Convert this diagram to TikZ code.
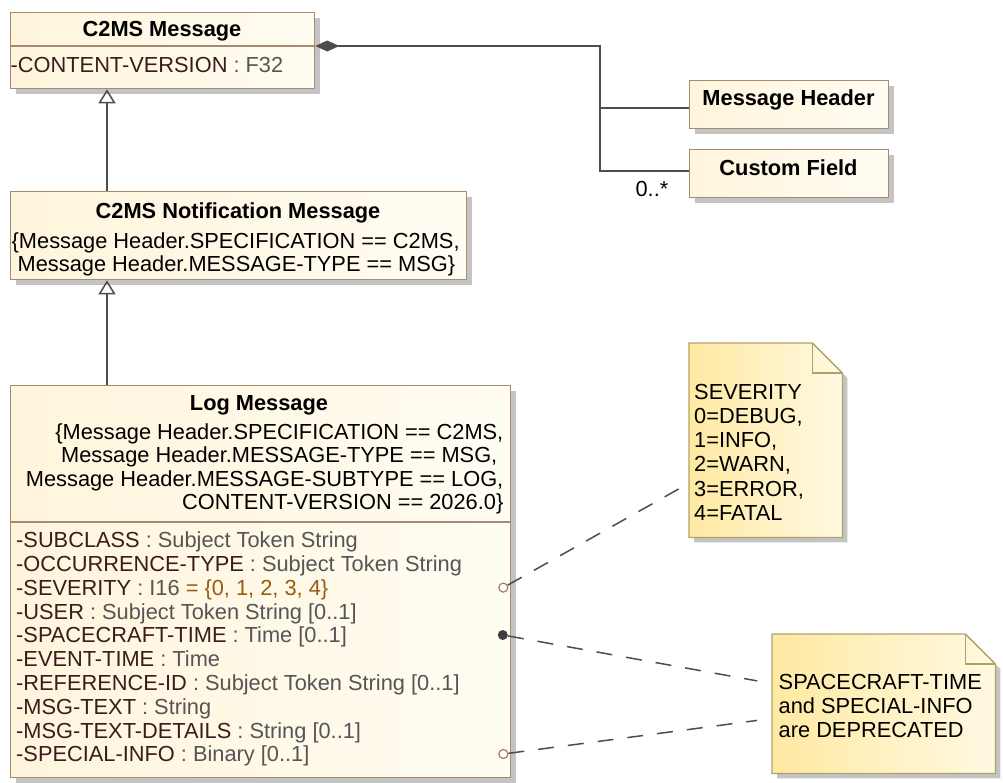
\documentclass[tikz,border=0pt]{standalone}
\usepackage{fontspec}
\setmainfont{Liberation Sans}
\usetikzlibrary{arrows.meta,calc,shadows}
\definecolor{boxA}{HTML}{FFF5DC}
\definecolor{boxB}{HTML}{FFFCF2}
\definecolor{boxline}{HTML}{A88A70}
\definecolor{noteA}{HTML}{FFE9A2}
\definecolor{noteB}{HTML}{FFF9E2}
\definecolor{noteline}{HTML}{B0A265}
\definecolor{shadowc}{HTML}{C4C4C4}
\definecolor{lnc}{HTML}{4D4D4D}
\definecolor{attrname}{HTML}{3A1C1C}
\definecolor{attrtype}{HTML}{555555}
\definecolor{attrval}{HTML}{9B5A12}
\definecolor{portc}{HTML}{A67C5E}
\newcommand{\attrline}[2]{\textcolor{attrname}{#1}\textcolor{attrtype}{\ :\ #2}}
\begin{document}
\begin{tikzpicture}[x=1pt,y=-1pt,
  every node/.style={font=\fontsize{21.8}{23.8}\selectfont, inner sep=0pt},
  umlbox/.style={draw=boxline, line width=1.3pt, left color=boxA, right color=boxB,
    anchor=north west, drop shadow={shadow xshift=5pt, shadow yshift=-5pt, fill=shadowc, opacity=1}},
  notebox/.style={anchor=north west},
  notepath/.style={draw=noteline, line width=1.3pt, left color=noteA, right color=noteB,
    drop shadow={shadow xshift=5pt, shadow yshift=-5pt, fill=shadowc, opacity=1}},
  titletext/.style={font=\fontsize{21.8}{23.8}\selectfont\bfseries, anchor=base},
  attrtext/.style={anchor=base west},
  divider/.style={draw=boxline, line width=1.3pt},
  conn/.style={draw=lnc, line width=1.5pt},
  gen/.style={conn, -{Triangle[open, length=14pt, width=17pt]}},
  notelink/.style={draw=lnc, line width=1.5pt, dash pattern=on 16pt off 14pt},
  porto/.style={circle, draw=portc, fill=white, line width=1.2pt, minimum size=9pt},
  portf/.style={circle, fill=lnc!80!black, minimum size=10pt}
]
\useasboundingbox (0,0) rectangle (1003,782);

% ---------- C2MS Message ----------
\node[umlbox, minimum width=304, minimum height=76] (c2ms) at (10,12) {};
\draw[divider] ($(c2ms.north west)+(0,34)$) -- ($(c2ms.north east)+(0,34)$);
\node[titletext] (c2mst) at (162,36) {C2MS Message};
\node[attrtext] (c2msa) at (10.5,72.5) {\attrline{-CONTENT-VERSION}{F32}};

% ---------- Message Header / Custom Field ----------
\node[umlbox, minimum width=199, minimum height=48] (mh) at (689,80) {};
\node[titletext] (mht) at (788.5,105.2) {Message Header};
\node[umlbox, minimum width=199, minimum height=48] (cf) at (689,149) {};
\node[titletext] (cft) at (788.5,175.2) {Custom Field};

% ---------- C2MS Notification Message ----------
\node[umlbox, minimum width=456, minimum height=88] (notif) at (10,191) {};
\node[titletext] (notift) at (238,218) {C2MS Notification Message};
\node[attrtext] (notifc1) at (11.5,248) {\{Message Header.SPECIFICATION == C2MS,};
\node[attrtext] (notifc2) at (11.5,271) {\hspace*{6pt}Message Header.MESSAGE-TYPE == MSG\}};

% ---------- Log Message ----------
\node[umlbox, minimum width=500, minimum height=392] (log) at (10,385) {};
\draw[divider] ($(log.north west)+(0,137)$) -- ($(log.north east)+(0,137)$);
\node[titletext] (logt) at (259,410.7) {Log Message};
\node[anchor=base east] (logc1) at (503.5,439.7) {\{Message Header.SPECIFICATION == C2MS,};
\node[anchor=base east] (logc2) at (503.5,462.9) {Message Header.MESSAGE-TYPE == MSG,\kern6pt};
\node[anchor=base east] (logc3) at (503.5,486.1) {Message Header.MESSAGE-SUBTYPE == LOG,};
\node[anchor=base east] (logc4) at (503.5,509.3) {CONTENT-VERSION == 2026.0\}};

\node[attrtext] (a1) at (16,547.7) {\attrline{-SUBCLASS}{Subject Token String}};
\node[attrtext] (a2) at (16,571.5) {\attrline{-OCCURRENCE-TYPE}{Subject Token String}};
\node[attrtext] (a3) at (16,595.3) {\attrline{-SEVERITY}{I16}\textcolor{attrval}{\ = \{0, 1, 2, 3, 4\}}};
\node[attrtext] (a4) at (16,619.1) {\attrline{-USER}{Subject Token String [0..1]}};
\node[attrtext] (a5) at (16,642.9) {\attrline{-SPACECRAFT-TIME}{Time [0..1]}};
\node[attrtext] (a6) at (16,666.7) {\attrline{-EVENT-TIME}{Time}};
\node[attrtext] (a7) at (16,690.5) {\attrline{-REFERENCE-ID}{Subject Token String [0..1]}};
\node[attrtext] (a8) at (16,714.3) {\attrline{-MSG-TEXT}{String}};
\node[attrtext] (a9) at (16,738.1) {\attrline{-MSG-TEXT-DETAILS}{String [0..1]}};
\node[attrtext] (a10) at (16,761.9) {\attrline{-SPECIAL-INFO}{Binary [0..1]}};

% ---------- Notes ----------
\node[notebox, minimum width=153, minimum height=194] (sevnote) at (689,343) {};
\path[notepath] (sevnote.north west) -- ($(sevnote.north east)+(-30,0)$) -- ($(sevnote.north east)+(0,30)$)
  -- (sevnote.south east) -- (sevnote.south west) -- cycle;
\draw[draw=noteline, line width=1.3pt] ($(sevnote.north east)+(-30,0)$) -- ($(sevnote.north east)+(-30,30)$) -- ($(sevnote.north east)+(0,30)$);
\node[anchor=west, align=left, font=\fontsize{21.8}{24.1}\selectfont] (sevtext) at (694,452.3)
  {SEVERITY\\0=DEBUG,\\1=INFO,\\2=WARN,\\3=ERROR,\\4=FATAL};

\node[notebox, minimum width=223, minimum height=139] (defnote) at (772,634) {};
\path[notepath] (defnote.north west) -- ($(defnote.north east)+(-30,0)$) -- ($(defnote.north east)+(0,30)$)
  -- (defnote.south east) -- (defnote.south west) -- cycle;
\draw[draw=noteline, line width=1.3pt] ($(defnote.north east)+(-30,0)$) -- ($(defnote.north east)+(-30,30)$) -- ($(defnote.north east)+(0,30)$);
\node[anchor=west, align=left, font=\fontsize{21.8}{23.6}\selectfont] (deftext) at (778.5,706)
  {SPACECRAFT-TIME\\and SPECIAL-INFO\\are DEPRECATED};

% ---------- Connectors ----------
\coordinate (c2msd) at ($(c2ms.north east)+(0,34)$);
\coordinate (junc) at (600,46);
\draw[conn, {Diamond[length=24pt, width=11pt]}-] (c2msd) -- (junc) |- ($(mh.north west)+(0,28)$);
\draw[conn] (junc) |- ($(cf.north west)+(0,22)$);
\node[anchor=base east] (mult) at (668.5,196.7) {0..*};

\draw[gen] ($(notif.north west)+(97,0)$) -- ($(c2ms.south west)+(97,0)$);
\draw[gen] ($(log.north west)+(97,0)$) -- ($(notif.south west)+(97,0)$);

\node[porto] (p1) at (503.3,587.6) {};
\node[portf] (p2) at (502.8,635) {};
\node[porto] (p3) at (503.3,754) {};

\draw[notelink] (p1) -- (sevnote);
\draw[notelink, shorten >=15pt] (p2) -- (defnote);
\draw[notelink, shorten >=15pt] (p3) -- (defnote);
\end{tikzpicture}
\end{document}
